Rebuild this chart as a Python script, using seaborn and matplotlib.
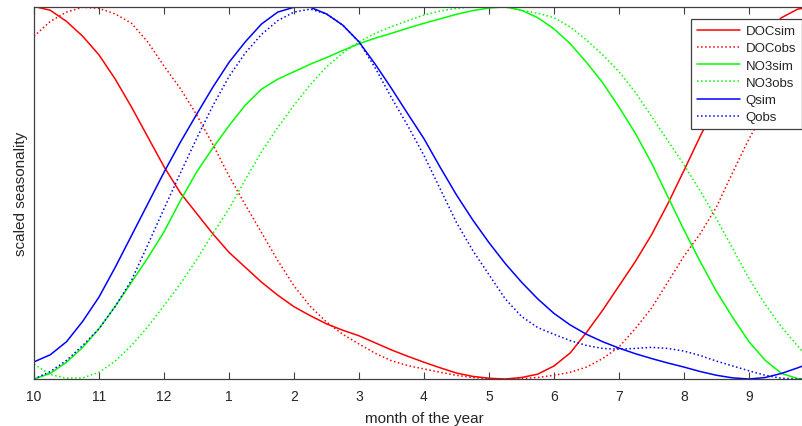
import matplotlib
matplotlib.use("Agg")
import matplotlib.pyplot as plt
import seaborn as sns

# month index (0 = October), sampled every quarter month over one seasonal cycle
months = [i * 0.25 for i in range(49)]
month_labels = ["10", "11", "12", "1", "2", "3", "4", "5", "6", "7", "8", "9"]

doc_sim = [1.0, 0.99, 0.96, 0.92, 0.87, 0.805, 0.73, 0.65, 0.57, 0.50, 0.445, 0.39,
           0.34, 0.30, 0.26, 0.225, 0.194, 0.17, 0.148, 0.131, 0.116, 0.097, 0.078, 0.061,
           0.045, 0.03, 0.016, 0.007, 0.002, 0.0, 0.004, 0.013, 0.035, 0.07, 0.125, 0.185,
           0.25, 0.315, 0.387, 0.47, 0.56, 0.652, 0.74, 0.815, 0.877, 0.93, 0.97, 0.993, 1.0]
doc_obs = [0.92, 0.96, 0.985, 0.998, 0.995, 0.98, 0.955, 0.905, 0.84, 0.78, 0.71, 0.63,
           0.545, 0.468, 0.393, 0.318, 0.25, 0.195, 0.153, 0.12, 0.094, 0.069, 0.049, 0.036,
           0.027, 0.018, 0.01, 0.004, 0.001, 0.0, 0.001, 0.004, 0.01, 0.018, 0.032, 0.055,
           0.086, 0.135, 0.19, 0.26, 0.33, 0.39, 0.462, 0.555, 0.645, 0.72, 0.79, 0.86, 0.92]
no3_sim = [0.0, 0.015, 0.045, 0.085, 0.135, 0.195, 0.26, 0.325, 0.395, 0.478, 0.555, 0.62,
           0.68, 0.735, 0.778, 0.805, 0.825, 0.845, 0.863, 0.882, 0.90, 0.915, 0.928, 0.942,
           0.955, 0.967, 0.979, 0.989, 0.996, 0.999, 0.99, 0.97, 0.94, 0.90, 0.85, 0.795,
           0.73, 0.66, 0.58, 0.49, 0.40, 0.315, 0.235, 0.165, 0.10, 0.05, 0.015, 0.001, 0.0]
no3_obs = [0.04, 0.012, 0.002, 0.003, 0.018, 0.048, 0.09, 0.14, 0.197, 0.255, 0.32, 0.39,
           0.457, 0.535, 0.61, 0.675, 0.735, 0.79, 0.838, 0.875, 0.905, 0.928, 0.946, 0.962,
           0.977, 0.988, 0.995, 0.999, 1.0, 0.998, 0.99, 0.982, 0.97, 0.945, 0.91, 0.87,
           0.825, 0.77, 0.705, 0.64, 0.575, 0.505, 0.43, 0.35, 0.27, 0.20, 0.14, 0.088, 0.04]
q_sim = [0.046, 0.065, 0.10, 0.155, 0.22, 0.30, 0.385, 0.47, 0.555, 0.635, 0.71, 0.783,
         0.85, 0.905, 0.953, 0.985, 0.998, 0.998, 0.98, 0.95, 0.905, 0.845, 0.78, 0.712,
         0.645, 0.568, 0.494, 0.427, 0.366, 0.31, 0.26, 0.215, 0.176, 0.145, 0.12, 0.10,
         0.083, 0.068, 0.055, 0.043, 0.032, 0.02, 0.01, 0.003, 0.0, 0.004, 0.015, 0.03, 0.046]
q_obs = [0.0, 0.02, 0.05, 0.09, 0.135, 0.195, 0.265, 0.36, 0.457, 0.552, 0.645, 0.733,
         0.812, 0.875, 0.925, 0.962, 0.985, 0.993, 0.98, 0.95, 0.905, 0.835, 0.755, 0.68,
         0.60, 0.51, 0.42, 0.345, 0.28, 0.215, 0.168, 0.138, 0.12, 0.103, 0.09, 0.082,
         0.08, 0.082, 0.085, 0.082, 0.075, 0.063, 0.048, 0.035, 0.022, 0.01, 0.002, 0.0, 0.0]

series = [
    ("DOCsim", doc_sim, "#ff0000", "-"),
    ("DOCobs", doc_obs, "#ff0000", ":"),
    ("NO3sim", no3_sim, "#00ff00", "-"),
    ("NO3obs", no3_obs, "#00ff00", ":"),
    ("Qsim", q_sim, "#0000ff", "-"),
    ("Qobs", q_obs, "#0000ff", ":"),
]

sns.set_theme(style="white")
plt.rcParams["font.family"] = ["Liberation Sans", "DejaVu Sans"]

W, H = 803, 427
fig = plt.figure(figsize=(W / 100, H / 100), dpi=100)
left_px, top_px, bottom_px, unit_px = 34, 7.5, 380, 65
# the axis spans a full year; the last month runs past the right edge of the figure
ax = fig.add_axes([left_px / W, (H - bottom_px) / H,
                   12 * unit_px / W, (bottom_px - top_px) / H])

for name, vals, color, ls in series:
    sns.lineplot(x=months, y=vals, ax=ax, color=color, linestyle=ls,
                 linewidth=1.1, label=name, estimator=None, sort=False)

ax.set_xlim(0, 12)
ax.set_ylim(0, 1)
ax.set_xticks(range(12))
ax.set_xticklabels(month_labels)
ax.set_yticks([])
ax.tick_params(axis="x", direction="in", length=5, width=0.8, color="#404040",
               top=True, bottom=True, labelsize=10, labelcolor="#262626", pad=7)
for sp in ax.spines.values():
    sp.set_visible(True)
    sp.set_color("#404040")
    sp.set_linewidth(0.9)

ax.set_xlabel("month of the year", fontsize=11, color="#262626", labelpad=6)
ax.set_ylabel("scaled seasonality", fontsize=11, color="#262626", labelpad=4.5)

leg = ax.legend(loc="upper right", bbox_to_anchor=(802 / W, (H - 20) / H),
                bbox_transform=fig.transFigure, fontsize=9.5, frameon=True,
                fancybox=False, framealpha=1, edgecolor="#404040",
                handlelength=3.3, handletextpad=0.4, labelspacing=0.38,
                borderpad=0.45, borderaxespad=0)
leg.get_frame().set_linewidth(0.9)
for t in leg.get_texts():
    t.set_color("#262626")

fig.savefig("out.png", dpi=100)
